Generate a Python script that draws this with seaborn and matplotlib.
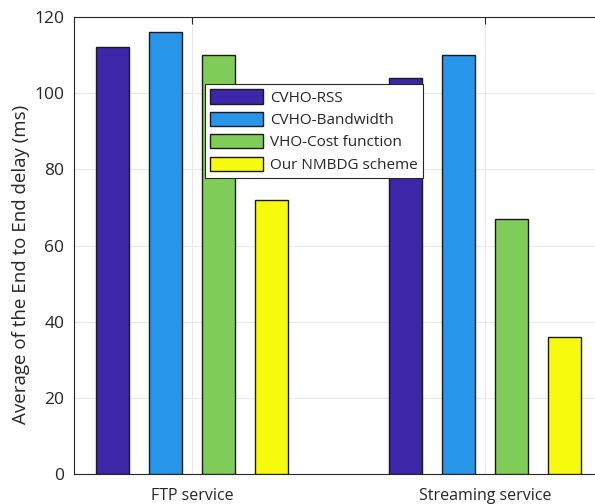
import pandas as pd
import matplotlib.pyplot as plt
import seaborn as sns

services = ['FTP service', 'Streaming service']
schemes = ['CVHO-RSS', 'CVHO-Bandwidth', 'VHO-Cost function', 'Our NMBDG scheme']
ftp_delay = [112, 116, 110, 72]
streaming_delay = [104, 110, 67, 36]
colors = ['#3d26a8', '#2896e8', '#80cc58', '#f8fa0d']

df = pd.DataFrame({
    'service': [services[0]] * 4 + [services[1]] * 4,
    'scheme': schemes * 2,
    'delay': ftp_delay + streaming_delay,
})

sns.set_style('white')
plt.rcParams['font.family'] = ['Open Sans', 'DejaVu Sans']
txt = '#262626'

fig = plt.figure(figsize=(5.95, 5.04), dpi=100)
ax = fig.add_axes([74 / 595, 30 / 504, 528 / 595, 457 / 504])

sns.barplot(data=df, x='service', y='delay', hue='scheme', order=services,
            hue_order=schemes, palette=colors, width=0.727, gap=0.38,
            edgecolor='#1a1a1a', linewidth=1.0, saturation=1, ax=ax, zorder=3)

ax.set_xlim(-0.403, 1.4)
ax.set_ylim(0, 120)
ax.set_yticks(range(0, 121, 20))
ax.grid(True, color='#e8e8e8', linewidth=0.8, zorder=0)
ax.set_axisbelow(True)
ax.tick_params(direction='in', length=5, colors=txt, top=True, labelcolor=txt)
ax.tick_params(axis='y', labelsize=12.5, pad=7)
ax.tick_params(axis='x', labelsize=11.5, pad=10)
for s in ax.spines.values():
    s.set_color('#262626')
    s.set_linewidth(0.8)
ax.set_xlabel('')
ax.set_ylabel('Average of the End to End delay (ms)', fontsize=13.5, color=txt)
ax.yaxis.set_label_coords(-0.083, 0.458)

leg = ax.legend(loc='upper left', bbox_to_anchor=(131 / 528, 390 / 457), fontsize=11,
                frameon=True, fancybox=False, edgecolor='#262626', framealpha=1,
                handlelength=3.45, handleheight=1.05, handletextpad=0.45,
                labelspacing=0.4, borderpad=0.35, borderaxespad=0)
leg.get_frame().set_linewidth(0.8)
for t in leg.get_texts():
    t.set_color(txt)

fig.savefig('out.png', dpi=100)
